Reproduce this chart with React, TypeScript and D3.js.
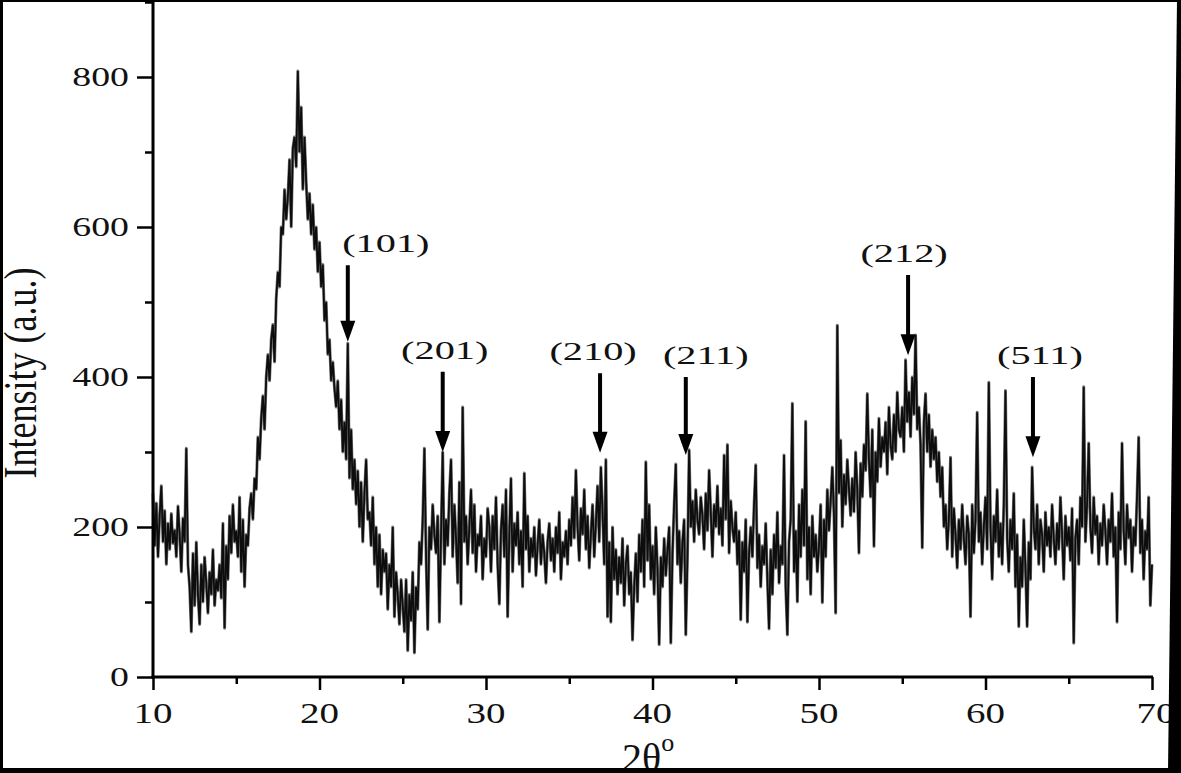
import React, { useEffect, useRef } from "react";
import * as d3 from "d3";

// 2-theta grid: 10.0 .. 70.0 in 0.1 degree steps
const thetaStart = 10;
const thetaStep = 0.1;

// intensity (a.u.), one row per degree
const intensity = [
  245, 175, 232, 160, 215, 255, 180, 222, 150, 205,
  170, 218, 178, 196, 160, 228, 190, 140, 212, 180,
  305, 150, 120, 60, 165, 95, 180, 110, 70, 150,
  100, 160, 125, 85, 140, 110, 170, 95, 130, 115,
  150, 105, 205, 65, 175, 130, 215, 165, 230, 180,
  195, 160, 240, 140, 210, 120, 190, 175, 225, 245,
  210, 265, 250, 320, 290, 345, 375, 330, 400, 430,
  395, 450, 470, 420, 505, 540, 520, 600, 590, 650,
  610, 640, 690, 600, 705, 720, 680, 808, 700, 760,
  650, 720, 660, 610, 645, 590, 630, 570, 600, 540,
  580, 520, 550, 475, 500, 430, 450, 395, 420, 385,
  360, 395, 330, 370, 300, 340, 290, 445, 265, 330,
  250, 290, 230, 275, 200, 260, 180, 245, 290, 210,
  220, 175, 240, 150, 200, 120, 190, 110, 170, 140,
  165, 90, 150, 120, 200, 80, 140, 110, 70, 130,
  95, 60, 130, 35, 110, 75, 140, 32, 120, 90,
  180, 150, 210, 305, 160, 63, 200, 170, 230, 190,
  165, 215, 73, 190, 300, 150, 210, 175, 245, 290,
  160, 230, 185, 125, 260, 97, 360, 180, 215, 150,
  200, 250, 165, 230, 140, 190, 175, 215, 130, 185,
  160, 225, 200, 140, 215, 170, 240, 150, 97, 195,
  230, 160, 250, 80, 190, 265, 140, 205, 175, 220,
  150, 195, 120, 272, 170, 215, 140, 185, 160, 200,
  135, 175, 210, 150, 190, 165, 125, 180, 205, 155,
  185, 140, 200, 165, 220, 130, 180, 160, 195, 150,
  210, 175, 240, 185, 276, 200, 155, 225, 190, 250,
  170, 215, 145, 190, 230, 160, 205, 255, 180, 280,
  220, 150, 290, 80, 180, 73, 200, 130, 170, 110,
  160, 125, 185, 95, 150, 175, 110, 140, 49, 120,
  165, 100, 190, 140, 210, 120, 287, 155, 230, 130,
  175, 110, 200, 145, 43, 160, 120, 185, 135, 170,
  200, 45, 165, 230, 284, 150, 195, 125, 180, 210,
  56, 160, 303, 200, 235, 180, 250, 210, 190, 240,
  215, 170, 245, 195, 276, 220, 160, 230, 200, 255,
  190, 225, 175, 296, 210, 310, 165, 235, 200, 180,
  220, 150, 195, 76, 180, 140, 210, 73, 165, 200,
  160, 230, 283, 145, 190, 120, 175, 150, 205, 130,
  64, 170, 110, 190, 145, 220, 125, 175, 150, 296,
  120, 56, 180, 210, 365, 140, 195, 100, 230, 160,
  250, 175, 341, 130, 200, 110, 215, 160, 190, 140,
  175, 230, 99, 210, 160, 250, 195, 235, 280, 215,
  85, 469, 245, 316, 200, 270, 230, 290, 250, 215,
  265, 220, 300, 250, 165, 285, 240, 310, 275, 378,
  290, 240, 330, 174, 300, 260, 345, 280, 320, 300,
  340, 270, 360, 310, 290, 350, 300, 380, 330, 320,
  360, 300, 423, 340, 380, 320, 400, 350, 456, 330,
  360, 310, 172, 340, 378, 300, 350, 280, 330, 290,
  320, 260, 300, 240, 280, 200, 230, 170, 210, 293,
  160, 225, 190, 145, 210, 170, 230, 185, 150, 215,
  190, 80, 230, 165, 210, 353, 180, 220, 150, 200,
  240, 170, 393, 200, 130, 215, 180, 250, 160, 205,
  150, 230, 382, 185, 140, 210, 170, 245, 120, 190,
  67, 160, 120, 210, 145, 67, 180, 130, 280, 200,
  170, 230, 150, 210, 190, 140, 220, 175, 200, 160,
  230, 185, 150, 205, 170, 240, 190, 130, 215, 175,
  200, 155, 225, 45, 185, 210, 150, 240, 200, 387,
  180, 230, 312, 200, 165, 240, 190, 215, 150, 205,
  175, 230, 195, 150, 210, 180, 245, 160, 200, 73,
  220, 170, 312, 195, 150, 230, 185, 210, 140, 200,
  175, 240, 320, 165, 210, 130, 195, 170, 240, 95,
  150,
];

const xTicks = [10, 20, 30, 40, 50, 60, 70];
const xMinorTicks = [15, 25, 35, 45, 55, 65];
const yTicks = [0, 200, 400, 600, 800];
const yMinorTicks = [100, 300, 500, 700, 900];

// reflections marked with arrows
const peakLabels = ["(101)", "(201)", "(210)", "(211)", "(212)", "(511)"];
const peakTheta = [21.7, 27.4, 36.85, 42.0, 55.35, 62.85];
const arrowTip = [447, 300, 299, 296, 429, 293];
const arrowTop = [549, 407, 405, 400, 536, 400];
const labelDx = [38, 2, -7, 20, -4, 7];

const W = 1181;
const H = 773;
const SERIF = "'Liberation Serif', 'Times New Roman', serif";

export default function App() {
  const ref = useRef<SVGSVGElement>(null);

  useEffect(() => {
    const svg = d3.select(ref.current);
    svg.selectAll("*").remove();

    const x = d3.scaleLinear().domain([10, 70]).range([153, 1152]);
    const y = d3.scaleLinear().domain([0, 902.67]).range([677, 0]);

    const pts: [number, number][] = intensity.map((v, i) => [
      thetaStart + i * thetaStep,
      v,
    ]);

    svg.append("rect").attr("width", W).attr("height", H).attr("fill", "#fff");

    // pattern: grey halo under a dark trace, like the scanned print
    const line = d3
      .line<[number, number]>()
      .x((d) => x(d[0]))
      .y((d) => y(d[1]));
    svg
      .append("path")
      .datum(pts)
      .attr("d", line)
      .attr("fill", "none")
      .attr("stroke", "#777")
      .attr("stroke-width", 3)
      .attr("stroke-linejoin", "round");
    svg
      .append("path")
      .datum(pts)
      .attr("d", line)
      .attr("fill", "none")
      .attr("stroke", "#0d0d0d")
      .attr("stroke-width", 1.8)
      .attr("stroke-linejoin", "miter");

    // axes
    const axStyle = (g: any) => {
      g.select(".domain").remove();
      g.selectAll("line").attr("stroke", "#000").attr("stroke-width", 2.5);
    };
    svg
      .append("g")
      .attr("transform", "translate(0,677)")
      .call(d3.axisBottom(x).tickValues(xTicks).tickSize(13).tickSizeOuter(0).tickFormat(() => ""))
      .call(axStyle);
    svg
      .append("g")
      .attr("transform", "translate(0,677)")
      .call(d3.axisBottom(x).tickValues(xMinorTicks).tickSize(7).tickSizeOuter(0).tickFormat(() => ""))
      .call(axStyle);
    svg
      .append("g")
      .attr("transform", "translate(153,0)")
      .call(d3.axisLeft(y).tickValues(yTicks).tickSize(16).tickSizeOuter(0).tickFormat(() => ""))
      .call(axStyle);
    svg
      .append("g")
      .attr("transform", "translate(153,0)")
      .call(d3.axisLeft(y).tickValues(yMinorTicks).tickSize(8).tickSizeOuter(0).tickFormat(() => ""))
      .call(axStyle);

    svg
      .append("line")
      .attr("x1", 153)
      .attr("x2", 153)
      .attr("y1", 0)
      .attr("y2", 678.5)
      .attr("stroke", "#000")
      .attr("stroke-width", 3);
    svg
      .append("line")
      .attr("x1", 151.5)
      .attr("x2", 1153)
      .attr("y1", 677)
      .attr("y2", 677)
      .attr("stroke", "#000")
      .attr("stroke-width", 3);

    // tick labels (the scan is stretched sideways, so are the glyphs)
    svg
      .selectAll(".xl")
      .data(xTicks)
      .join("text")
      .attr("class", "xl")
      .attr("transform", (d) => `translate(${x(d) + (d === 70 ? 4 : 0)},723) scale(1.3,1)`)
      .attr("text-anchor", "middle")
      .attr("font-family", SERIF)
      .attr("font-size", 30)
      .attr("fill", "#111")
      .text((d) => d);

    svg
      .selectAll(".yl")
      .data(yTicks)
      .join("text")
      .attr("class", "yl")
      .attr("transform", (d) => `translate(129,${y(d) + 9}) scale(1.4,1)`)
      .attr("text-anchor", "end")
      .attr("font-family", SERIF)
      .attr("font-size", 27)
      .attr("fill", "#111")
      .text((d) => d);

    // arrows + labels
    const ann = svg
      .selectAll(".peak")
      .data(peakLabels)
      .join("g")
      .attr("class", "peak");
    ann
      .append("line")
      .attr("x1", (_, i) => x(peakTheta[i]))
      .attr("x2", (_, i) => x(peakTheta[i]))
      .attr("y1", (_, i) => y(arrowTop[i]))
      .attr("y2", (_, i) => y(arrowTip[i]) - 12)
      .attr("stroke", "#000")
      .attr("stroke-width", 4);
    ann
      .append("path")
      .attr("d", (_, i) => {
        const px = x(peakTheta[i]);
        const py = y(arrowTip[i]);
        return `M${px - 7.5},${py - 21}L${px + 7.5},${py - 21}L${px},${py}Z`;
      })
      .attr("fill", "#000");
    ann
      .append("text")
      .attr(
        "transform",
        (_, i) =>
          `translate(${x(peakTheta[i]) + labelDx[i]},${y(arrowTop[i]) - 13}) scale(1.55,1)`
      )
      .attr("text-anchor", "middle")
      .attr("font-family", SERIF)
      .attr("font-size", 26)
      .attr("fill", "#111")
      .text((d) => d);

    // axis titles
    svg
      .append("text")
      .attr("transform", "translate(36,373) rotate(-90) scale(1,1.3)")
      .attr("text-anchor", "middle")
      .attr("font-family", SERIF)
      .attr("font-size", 36)
      .attr("fill", "#111")
      .text("Intensity (a.u.)");

    const xt = svg
      .append("text")
      .attr("x", 622)
      .attr("y", 771)
      .attr("font-family", SERIF)
      .attr("font-size", 40)
      .attr("fill", "#111");
    xt.append("tspan").text("2θ");
    xt.append("tspan")
      .attr("font-size", 26)
      .attr("dy", -20)
      .text("o");

    // frame of the scanned figure
    svg.append("rect").attr("x", 0).attr("y", 0).attr("width", 3).attr("height", H).attr("fill", "#000");
    svg.append("rect").attr("x", 0).attr("y", 0).attr("width", W).attr("height", 2).attr("fill", "#000");
    svg.append("rect").attr("x", 0).attr("y", 768).attr("width", W).attr("height", 5).attr("fill", "#000");
    svg
      .append("polygon")
      .attr("points", "1177,0 1181,0 1181,773 1168,773")
      .attr("fill", "#000");
  }, []);

  return (
    <svg
      ref={ref}
      width={W}
      height={H}
      style={{ position: "absolute", left: 0, top: 0, display: "block" }}
    />
  );
}
